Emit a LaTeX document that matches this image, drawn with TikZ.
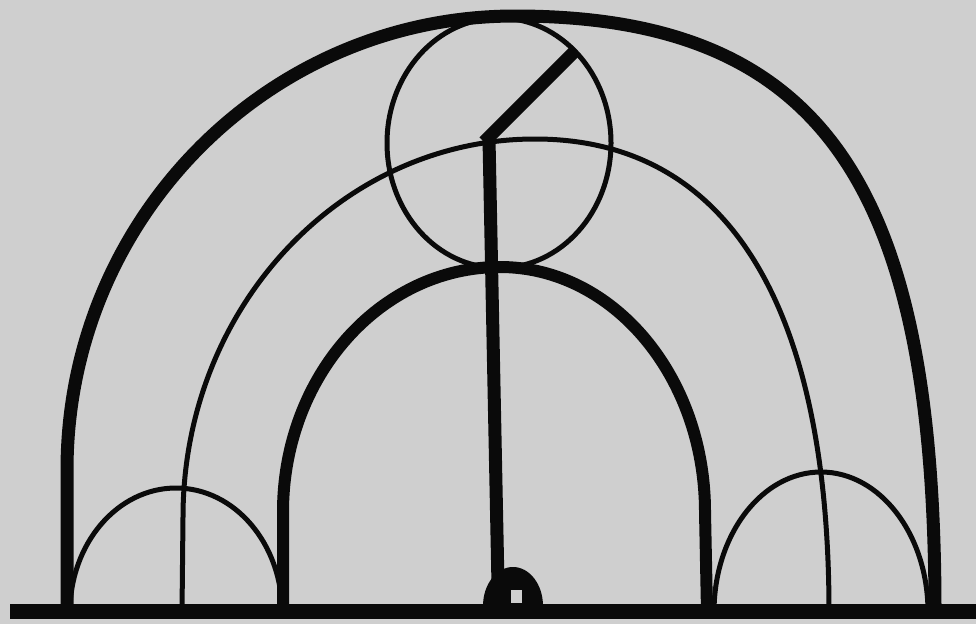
\documentclass[tikz,border=0pt]{standalone}
\begin{document}
\begin{tikzpicture}[x=1pt,y=-1pt,
  thickline/.style={line width=13pt,draw=black!96,line cap=butt},
  thinline/.style={line width=5pt,draw=black!96}]
\fill[black!19] (0,0) rectangle (976,624);
\useasboundingbox (0,0) rectangle (976,624);
% small arcs (thin)
\draw[thinline] (70,612) arc[start angle=180,end angle=360,x radius=106,y radius=124];
\draw[thinline] (714,612) arc[start angle=180,end angle=360,x radius=107,y radius=140];
% middle thin arch
\coordinate (mL) at (182,612);
\coordinate (mR) at (829,612);
\draw[thinline] (mL) -- (183,517) arc[start angle=180,end angle=270,x radius=352,y radius=378]
  .. controls (741,139) and (829,328) .. (mR);
% circle
\coordinate (cc) at (499,143);
\draw[thinline] (cc) ellipse[x radius=112,y radius=125];
% outer thick arch
\coordinate (oL) at (67,612);
\coordinate (oR) at (935,612);
\draw[thickline] (oL) -- (67,470) arc[start angle=180,end angle=270,x radius=448,y radius=454]
  .. controls (830,16) and (935,195) .. (oR);
% inner thick arch
\coordinate (iL) at (283,612);
\coordinate (iR) at (707,612);
\draw[thickline,line width=12pt] (iL) -- (283,512) arc[start angle=180,end angle=270,x radius=217,y radius=245]
  arc[start angle=270,end angle=360,x radius=205,y radius=245] -- (iR);
% radius lines
\coordinate (hub) at (484,142);
\coordinate (rim) at (574,52);
\coordinate (foot) at (498,585);
\draw[thickline] (hub) -- (rim);
\draw[thickline] (489,139) -- (foot);
% baseline
\coordinate (bl) at (10,611);
\coordinate (br) at (976,611);
\draw[line width=15pt,draw=black!96] (bl) -- (br);
% bottom marker
\fill[black!96] (483,606) arc[start angle=180,end angle=360,x radius=30,y radius=39] -- cycle;
\fill[black!19] (511,590) rectangle (522,603);
\end{tikzpicture}
\end{document}
